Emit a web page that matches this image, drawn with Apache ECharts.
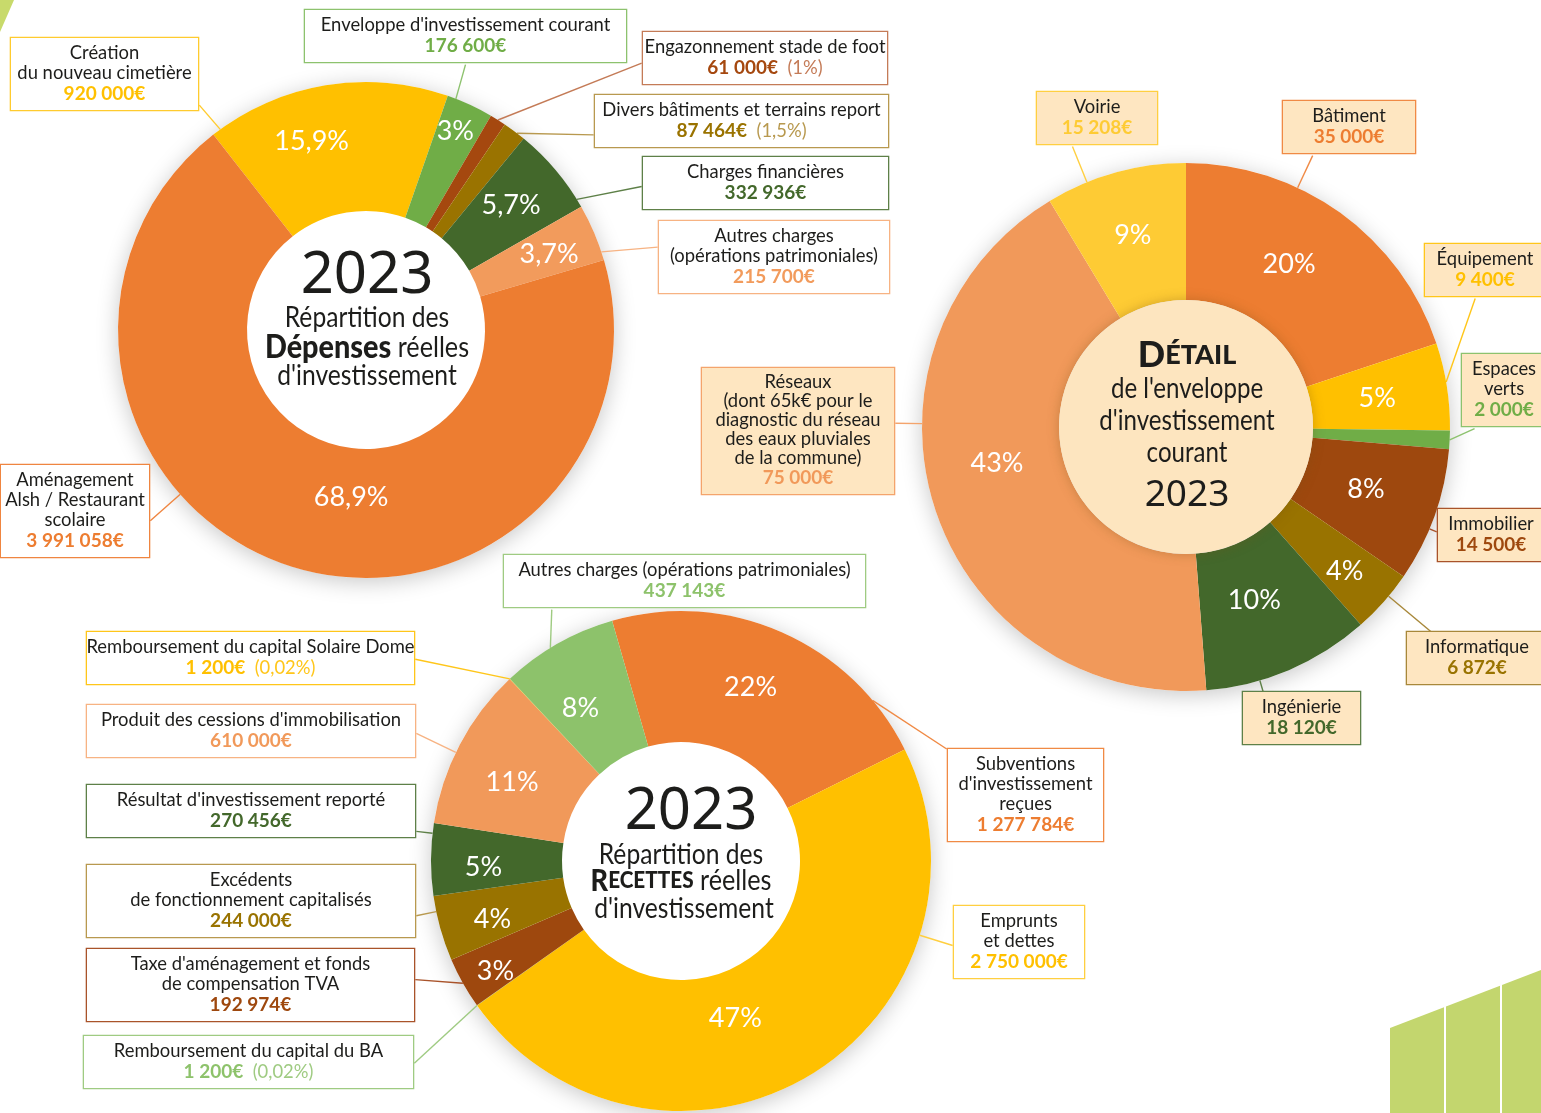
<!DOCTYPE html>
<html>
<head>
<meta charset="utf-8">
<script src="https://cdn.jsdelivr.net/npm/echarts@6/dist/echarts.min.js"></script>
<style>
  html, body { margin: 0; padding: 0; background: #fff; }
  #chart { width: 1541px; height: 1113px; }
</style>
</head>
<body>
<div id="chart"></div>
<script>
// Dépenses réelles d'investissement 2023
const depNames = ['Création\ndu nouveau cimetière', "Enveloppe d'investissement courant", 'Engazonnement stade de foot',
  'Divers bâtiments et terrains report', 'Charges financières', 'Autres charges\n(opérations patrimoniales)',
  'Aménagement\nAlsh / Restaurant\nscolaire'];
const depValues = [920000, 176600, 61000, 87464, 332936, 215700, 3991058];
const depPct = ['15,9%', '3%', '', '', '5,7%', '3,7%', '68,9%'];
const depNotes = ['', '', '(1%)', '(1,5%)', '', '', ''];

// Détail de l'enveloppe d'investissement courant 2023
const envNames = ['Bâtiment', 'Équipement', 'Espaces\nverts', 'Immobilier', 'Informatique', 'Ingénierie',
  'Réseaux\n(dont 65k€ pour le\ndiagnostic du réseau\ndes eaux pluviales\nde la commune)', 'Voirie'];
const envValues = [35000, 9400, 2000, 14500, 6872, 18120, 75000, 15208];
const envPct = ['20%', '5%', '', '8%', '4%', '10%', '43%', '9%'];
const envNotes = ['', '', '', '', '', '', '', ''];

// Recettes réelles d'investissement 2023
const recNames = ["Subventions\nd'investissement\nreçues", 'Emprunts\net dettes', 'Remboursement du capital du BA',
  "Taxe d'aménagement et fonds\nde compensation TVA", 'Excédents\nde fonctionnement capitalisés',
  "Résultat d'investissement reporté", "Produit des cessions d'immobilisation",
  'Remboursement du capital Solaire Dome', 'Autres charges (opérations patrimoniales)'];
const recValues = [1277784, 2750000, 1200, 192974, 244000, 270456, 610000, 1200, 437143];
const recPct = ['22%', '47%', '', '3%', '4%', '5%', '11%', '', '8%'];
const recNotes = ['', '', '(0,02%)', '', '', '', '', '(0,02%)', ''];

// styles
const depColors = ['#FFC000', '#70AD47', '#A5480F', '#9A7300', '#43682B', '#F29B5C', '#ED7D31'];
const depBorders = ['#FFCB2E', '#8DC26E', '#C47B57', '#B8994F', '#5E8048', '#F7B383', '#EF8540'];
const envColors = ['#ED7D31', '#FFC000', '#70AD47', '#9E480E', '#997300', '#43682B', '#F1995A', '#FECB34'];
const envBorders = ['#F08A45', '#FFC61A', '#8DC26E', '#A9532A', '#A8883A', '#5E8048', '#F4A46C', '#FFCF40'];
const recColors = ['#ED7D31', '#FFC000', '#8DC26B', '#9E480E', '#997300', '#43682B', '#F1995A', '#FFC000', '#8DC26B'];
const recBorders = ['#F08A45', '#FFCF40', '#9FCB82', '#A9532A', '#B8994F', '#5E8048', '#F7B383', '#FFC61A', '#9FCB82'];

// label boxes: [centre x, top y, width, name line height]
const depBoxes = [[104.5, 38, 189], [465.5, 10, 323], [765, 32, 246], [741.5, 95, 295], [765.5, 157, 247], [774, 221, 232], [75, 465, 150]];
const envBoxes = [[1349, 101, 134], [1485, 244, 122], [1504, 354, 86], [1491, 509, 108], [1477, 632, 142], [1301.5, 692, 119], [798, 368, 194, 18.8], [1097, 92, 122]];
const recBoxes = [[1025.5, 749, 157], [1019, 906, 132], [248.5, 1036, 331], [250.5, 949, 329], [251, 865, 330], [251, 785, 330], [251, 705, 330], [250.5, 632, 329], [684.5, 555, 363]];

// where the leader line leaves the box [fx, fy] and, optionally, where it meets the slice (0..1 of its arc)
const depAnchors = [[1, 0.9], [0.5, 1], [0, 0.57], [0, 0.73], [0, 0.54], [0, 0.35], [1, 0.59]];
const envAnchors = [[0.23, 1], [0.42, 1, 0.45], [0.16, 1, 0.5], [0, 0.42], [0.18, 0], [0.18, 0], [1, 0.43], [0.3, 1]];
const recAnchors = [[0, 0, 0.83], [0, 0.53], [1, 0.5], [1, 0.41, 0.5], [1, 0.68], [1, 0.85], [1, 0.52], [1, 0.5], [0.135, 1, 0.43]];

// nudges of the percentage labels
const depPctShift = [[-22, 8], [6, -18], [0, 0], [0, 0], [-7, 4], [0, 2], [46, -22]];
const envPctShift = [[-13, -2], [-5, 2], [0, 0], [-7, -5], [10, 13], [-9, -10], [0, -24], [0, 0]];
const recPctShift = [[-6, -2], [-42, -4], [0, 0], [-22, 19], [-8, 8], [-10, 7], [-3, 9], [0, 0], [-8, 10]];

const FONT = 'Lato';
const INK = '#1d1d1b';

function fmt(v) {
  return String(v).replace(/\B(?=(\d{3})+(?!\d))/g, ' ') + '€';
}

function donut(o) {
  const series = [];
  const cx = o.center[0], cy = o.center[1], R = o.radius[1];
  const total = o.values.reduce(function (a, b) { return a + b; }, 0);
  const a0 = 90 - o.startAngle; // degrees, clockwise from 12 o'clock
  let acc = 0;
  const spans = o.values.map(function (v) {
    const s = a0 + acc / total * 360;
    acc += v;
    return [s, a0 + acc / total * 360];
  });
  function arcPoint(a) {
    const r = a * Math.PI / 180;
    return [cx + R * Math.sin(r), cy - R * Math.cos(r)];
  }

  // soft shadow under the ring
  series.push({
    type: 'pie', center: o.center, radius: [0, R], silent: true, z: 1,
    label: { show: false }, labelLine: { show: false },
    itemStyle: { color: '#fff', shadowBlur: 22, shadowColor: 'rgba(0,0,0,0.22)', shadowOffsetY: 4 },
    data: [{ value: 1 }]
  });
  series.push({
    type: 'pie', center: o.center, radius: o.radius, startAngle: o.startAngle, clockwise: true,
    avoidLabelOverlap: false, silent: true, z: 2,
    labelLine: { show: true, length: 10, length2: 0, smooth: false },
    labelLayout: function (p) {
      const i = p.dataIndex;
      const b = o.boxes[i], an = o.anchors[i], sp = spans[i];
      const w = p.labelRect.width, h = p.labelRect.height;
      const ax = b[0] - w / 2 + an[0] * w, ay = b[1] + an[1] * h;
      let ang;
      if (an[2] != null) {
        ang = sp[0] + an[2] * (sp[1] - sp[0]);
      } else {
        const mid = (sp[0] + sp[1]) / 2;
        ang = Math.atan2(ax - cx, cy - ay) * 180 / Math.PI;
        while (ang < mid - 180) ang += 360;
        while (ang > mid + 180) ang -= 360;
        const m = Math.min(2, (sp[1] - sp[0]) / 2);
        ang = Math.max(sp[0] + m, Math.min(sp[1] - m, ang));
      }
      return {
        x: b[0], y: b[1], align: 'center', verticalAlign: 'top',
        labelLinePoints: [arcPoint(ang), [ax, ay], [ax, ay]]
      };
    },
    data: o.values.map(function (v, i) {
      const b = o.boxes[i];
      return {
        value: v, name: o.names[i],
        itemStyle: { color: o.colors[i] },
        labelLine: { lineStyle: { color: o.borders[i], width: 1.4 } },
        label: {
          show: true, position: 'outside', overflow: 'none',
          formatter: '{n|' + o.names[i] + '}\n{v|' + fmt(v) + '}' + (o.notes[i] ? '{q|  ' + o.notes[i] + '}' : ''),
          width: b[2] - 14, padding: [5, 6],
          backgroundColor: o.fill, borderColor: o.borders[i], borderWidth: 1.3,
          rich: {
            n: { fontFamily: FONT, fontSize: 18.4, color: INK, lineHeight: b[3] || 20, align: 'center' },
            v: { fontFamily: FONT, fontSize: 19, fontWeight: 'bold', color: o.colors[i], lineHeight: 22, align: 'center' },
            q: { fontFamily: FONT, fontSize: 18.4, color: o.borders[i], lineHeight: 22, align: 'center' }
          }
        }
      };
    })
  });
  if (o.hub) {
    series.push({
      type: 'pie', center: o.center, radius: [0, o.radius[0]], silent: true, z: 3,
      label: { show: false }, labelLine: { show: false },
      itemStyle: { color: o.hub, shadowBlur: 12, shadowColor: 'rgba(120,80,20,0.35)' },
      data: [{ value: 1 }]
    });
  }
  // percentages inside the slices
  series.push({
    type: 'pie', center: o.center, radius: o.labelRadius, startAngle: o.startAngle, clockwise: true,
    silent: true, z: 4, emphasis: { disabled: true },
    itemStyle: { color: 'rgba(0,0,0,0)' },
    labelLine: { show: false },
    label: { position: 'inside', color: '#fff', fontFamily: FONT, fontSize: 27,
      formatter: function (p) { return o.pct[p.dataIndex]; } },
    labelLayout: function (p) {
      const d = o.pctShift[p.dataIndex];
      return { dx: d[0], dy: d[1] };
    },
    data: o.values.map(function (v, i) {
      return { value: v, name: o.names[i], label: { show: !!o.pct[i] } };
    })
  });
  return series;
}

function txt(x, y, text, size, extra) {
  return {
    type: 'text', x: x, y: y, z: 100, scaleX: (extra && extra.scaleX) || 1,
    style: Object.assign({
      text: text, fontFamily: FONT, fontSize: size, fill: INK, align: 'center', verticalAlign: 'middle'
    }, (extra && extra.style) || {})
  };
}

const chart = echarts.init(document.getElementById('chart'));
chart.setOption({
  animation: false,
  backgroundColor: '#fff',
  series: [].concat(
    donut({ names: depNames, values: depValues, pct: depPct, notes: depNotes, colors: depColors, borders: depBorders,
      boxes: depBoxes, anchors: depAnchors, pctShift: depPctShift,
      center: [366, 330], radius: [119, 248], labelRadius: [142, 250], startAngle: 128, fill: '#fff' }),
    donut({ names: envNames, values: envValues, pct: envPct, notes: envNotes, colors: envColors, borders: envBorders,
      boxes: envBoxes, anchors: envAnchors, pctShift: envPctShift,
      center: [1186, 427], radius: [127, 264], labelRadius: [127, 264], startAngle: 90, fill: '#FEE6C1', hub: '#FDE5BF' }),
    donut({ names: recNames, values: recValues, pct: recPct, notes: recNotes, colors: recColors, borders: recBorders,
      boxes: recBoxes, anchors: recAnchors, pctShift: recPctShift,
      center: [681, 861], radius: [119, 250], labelRadius: [119, 250], startAngle: 106, fill: '#fff' })
  ),
  graphic: [
    { type: 'polygon', z: 0, shape: { points: [[0, 0], [14, 0], [0, 32]] }, style: { fill: '#C8DA6B' } },
    { type: 'polygon', z: 0, shape: { points: [[1390, 1028], [1541, 970], [1541, 1113], [1390, 1113]] }, style: { fill: '#C3D66E' } },
    { type: 'line', z: 1, shape: { x1: 1445, y1: 1000, x2: 1445, y2: 1113 }, style: { stroke: '#fff', lineWidth: 2 } },
    { type: 'line', z: 1, shape: { x1: 1501, y1: 980, x2: 1501, y2: 1113 }, style: { stroke: '#fff', lineWidth: 2 } },

    txt(367, 276, '2023', 58, { style: { fontFamily: 'Noto Sans' } }),
    txt(367, 318, 'Répartition des', 28, { scaleX: 0.88 }),
    txt(367, 348, '{b|Dépenses} {r|réelles}', 28, { scaleX: 0.9, style: { rich: {
      b: { fontFamily: FONT, fontSize: 32, fontWeight: 900, fill: INK },
      r: { fontFamily: FONT, fontSize: 28, fill: INK } } } }),
    txt(367, 376, "d'investissement", 28, { scaleX: 0.88 }),

    txt(1187, 355, '{d|D}{s|ÉTAIL}', 34, { style: { rich: {
      d: { fontFamily: FONT, fontSize: 36, fontWeight: 900, fill: INK },
      s: { fontFamily: FONT, fontSize: 27, fontWeight: 900, fill: INK } } } }),
    txt(1187, 389, "de l'enveloppe", 28, { scaleX: 0.86 }),
    txt(1187, 421, "d'investissement", 28, { scaleX: 0.86 }),
    txt(1187, 453, 'courant', 28, { scaleX: 0.86 }),
    txt(1187, 495, '2023', 37, { style: { fontFamily: 'Noto Sans' } }),

    txt(691, 812, '2023', 58, { style: { fontFamily: 'Noto Sans' } }),
    txt(681, 855, 'Répartition des', 28, { scaleX: 0.88 }),
    txt(681, 881, '{d|R}{s|ECETTES} {r|réelles}', 28, { scaleX: 0.9, style: { rich: {
      d: { fontFamily: FONT, fontSize: 30, fontWeight: 900, fill: INK },
      s: { fontFamily: FONT, fontSize: 23, fontWeight: 900, fill: INK },
      r: { fontFamily: FONT, fontSize: 28, fill: INK } } } }),
    txt(684, 909, "d'investissement", 28, { scaleX: 0.88 })
  ]
});
</script>
</body>
</html>
